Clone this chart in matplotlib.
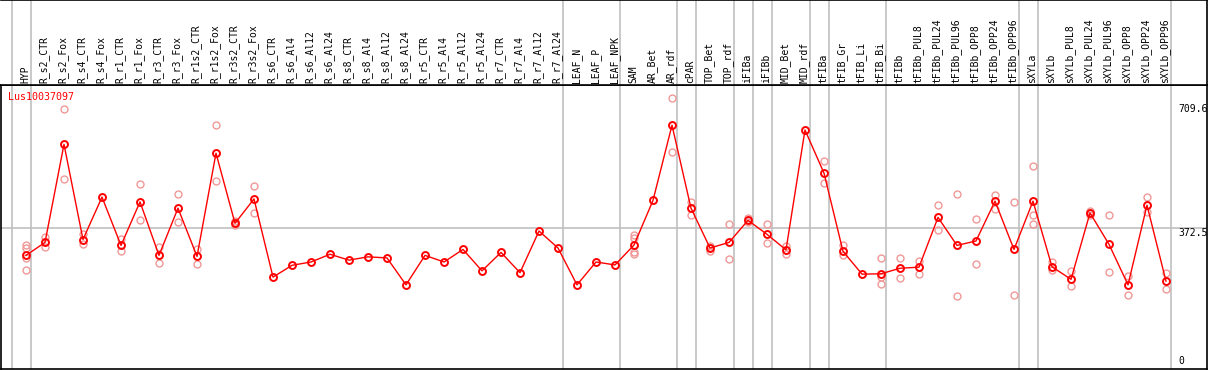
import matplotlib
matplotlib.use("Agg")
import matplotlib.pyplot as plt

labels = ["HYP", "R_s2_CTR", "R_s2_Fox", "R_s4_CTR", "R_s4_Fox", "R_r1_CTR", "R_r1_Fox",
          "R_r3_CTR", "R_r3_Fox", "R_r1s2_CTR", "R_r1s2_Fox", "R_r3s2_CTR", "R_r3s2_Fox",
          "R_s6_CTR", "R_s6_Al4", "R_s6_Al12", "R_s6_Al24", "R_s8_CTR", "R_s8_Al4",
          "R_s8_Al12", "R_s8_Al24", "R_r5_CTR", "R_r5_Al4", "R_r5_Al12", "R_r5_Al24",
          "R_r7_CTR", "R_r7_Al4", "R_r7_Al12", "R_r7_Al24", "LEAF_N", "LEAF_P", "LEAF_NPK",
          "SAM", "AR_Bet", "AR_rdf", "cPAR", "TOP_Bet", "TOP_rdf", "iFIBa", "iFIBb",
          "MID_Bet", "MID_rdf", "tFIBa", "tFIB_Gr", "tFIB_Li", "tFIB_Bi", "tFIBb",
          "tFIBb_PUL8", "tFIBb_PUL24", "tFIBb_PUL96", "tFIBb_OPP8", "tFIBb_OPP24",
          "tFIBb_OPP96", "sXYLa", "sXYLb", "sXYLb_PUL8", "sXYLb_PUL24", "sXYLb_PUL96",
          "sXYLb_OPP8", "sXYLb_OPP24", "sXYLb_OPP96"]

means = [299, 334, 600, 342, 457, 326, 444, 299, 427, 296, 576, 386, 452,
         240, 272, 281, 302, 286, 295, 292, 219, 299, 281, 315, 257,
         307, 252, 365, 319, 219, 281, 273,
         327, 448, 652, 427, 319, 334, 394, 356, 314, 639, 522, 310, 248, 249, 264,
         267, 402, 326, 338, 446, 315, 446, 268, 234, 414, 329, 219, 435, 229]

reps = [[326, 318, 293, 259], [350, 321], [695, 505], [357, 329], [], [344, 312], [492, 394],
        [323, 277], [465, 390], [316, 275], [652, 500], [391, 381], [487, 413],
        [], [], [], [], [], [], [], [], [], [], [], [],
        [], [], [], [], [], [], [],
        [354, 347, 309, 303], [], [725, 579], [444, 409], [324, 312], [383, 288],
        [401, 389], [383, 332], [325, 302], [], [554, 496], [327, 301], [],
        [292, 241, 221], [292, 237],
        [284, 249], [435, 367], [465, 188], [398, 275], [463, 424], [443, 191],
        [541, 409, 383], [282, 260], [257, 215], [420, 409], [408, 253],
        [244, 191], [456, 417], [250, 207]]

# last index of each group (vertical separators)
group_ends = [-1, 0, 28, 31, 34, 35, 37, 38, 39, 41, 42, 45, 52, 53, 60]
ref_lines = [372.5]
right_ticks = [709.6, 372.5, 0]

W, H = 1209, 370
fig = plt.figure(figsize=(W / 100, H / 100), dpi=100)
ax = fig.add_axes([1 / W, 1 / H, 1206 / W, 284 / H])
hd = fig.add_axes([1 / W, 285 / H, 1206 / W, 85 / H], sharex=ax)

grey = "#c0c0c0"
red = "#ff0000"
pink = "#f09898"
mono = "DejaVu Sans Mono"

xs = list(range(len(labels)))
for i, r in enumerate(reps):
    if r:
        ax.plot([i] * len(r), r, ls="none", marker="o", ms=5, mfc="none",
                mec=pink, mew=1.0, zorder=3)
ax.plot(xs, means, color=red, lw=1.0, marker="o", ms=5, mfc="none",
        mec=red, mew=1.4, zorder=4)

for g in group_ends:
    ax.axvline(g + 0.24, color=grey, lw=1.2, zorder=1)
    hd.axvline(g + 0.24, color=grey, lw=1.2, zorder=1)
for v in ref_lines:
    ax.axhline(v, color=grey, lw=1.2, zorder=1)

ax.set_xlim((1 - 26) / 19, (1207 - 26) / 19)
ax.set_ylim(-9.2, 761)
ax.set_xticks([])
ax.set_yticks([])
for s in ax.spines.values():
    s.set_color("black")
    s.set_linewidth(1.2)

for t in right_ticks:
    ax.text((1178 - 26) / 19, t, f"{t:g}", fontsize=7, family=mono,
            va="top" if t > 0 else "bottom", ha="left", clip_on=False)

ax.text(0.006, 0.958, "Lus10037097", transform=ax.transAxes, color=red,
        fontsize=7.2, family=mono, va="center", ha="left")

hd.set_ylim(0, 85)
hd.set_yticks([])
hd.tick_params(axis="x", bottom=False, labelbottom=False)
for i, lab in enumerate(labels):
    hd.text(i - 0.05, 2.3, lab, rotation=90, fontsize=7, family=mono,
            ha="center", va="bottom")
hd.spines["left"].set_visible(False)
for s in ["top", "right", "bottom"]:
    hd.spines[s].set_linewidth(1.2)

fig.savefig("out.png", dpi=100)
